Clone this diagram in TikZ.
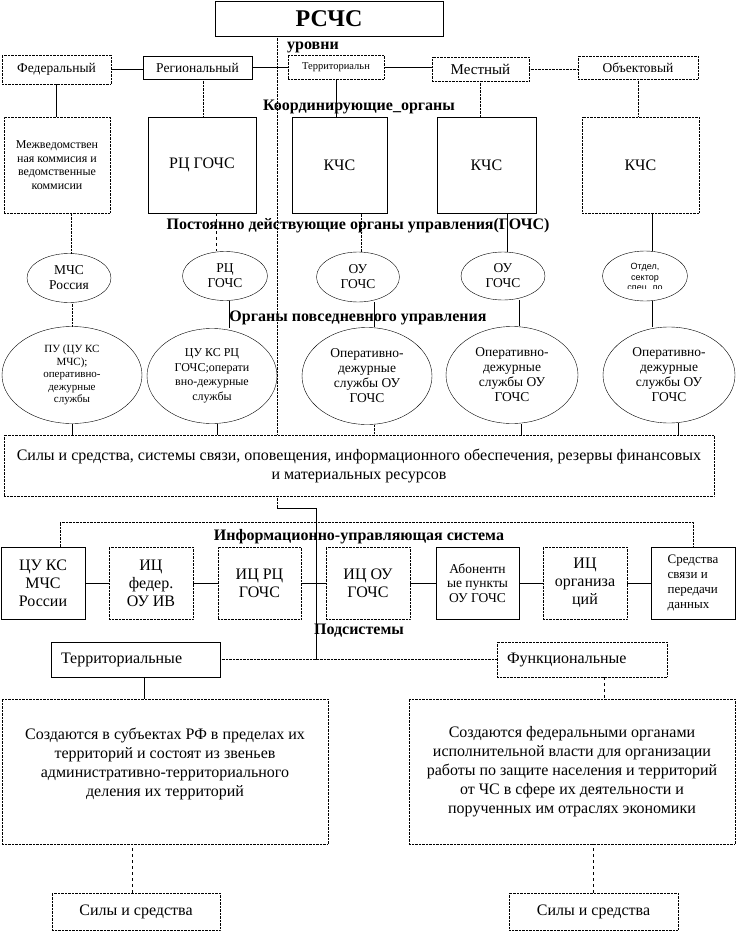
\documentclass[tikz,border=0pt]{standalone}
\usepackage{fontspec}
\setmainfont{Liberation Serif}
\newfontfamily\sansfnt{Liberation Sans}
\usetikzlibrary{positioning,shapes.geometric}
\newcommand{\fsz}[2]{\fontsize{#1}{#2}\selectfont}

\begin{document}
\begin{tikzpicture}[x=1pt,y=-1pt,
        box/.style={draw, rectangle, inner sep=1pt, align=center},
        dbox/.style={box, densely dotted},
        oval/.style={draw, ellipse, inner sep=0pt, align=center},
        lbl/.style={font=\fsz{16}{18}\bfseries},
        dline/.style={densely dotted}]
        \useasboundingbox (0,0) rectangle (737,942);

        \node[box, minimum width=228pt, minimum height=35pt, font=\fsz{24}{26}\bfseries] (rschs) at (329,18.5) {РСЧС};

        \node[dbox, minimum width=109pt, minimum height=29pt, font=\fsz{13.5}{15}] (fed) at (56.5,69.5) {Федеральный};
        \node[box, minimum width=109pt, minimum height=23pt, font=\fsz{13.5}{15}] (reg) at (197.5,67.5) {Региональный};
        \node[dbox, minimum width=96pt, minimum height=24pt, font=\fsz{10.5}{12}] (terr) at (336,67) {Территориальн};
        \node[dbox, minimum width=97pt, minimum height=24pt, font=\fsz{15}{17}] (mest) at (480.5,69) {Местный};
        \node[dbox, minimum width=120pt, minimum height=23pt, font=\fsz{13.5}{15}] (obj) at (638,67.5) {Объектовый};

        \draw (fed.east) -- (fed.east -| reg.west);
        \draw (reg.east) -- (reg.east -| terr.west);
        \draw (terr.east) -- (terr.east -| mest.west);
        \draw[dline] (mest.east) -- (mest.east -| obj.west);

        \node[dbox, minimum width=106pt, minimum height=96pt, font=\fsz{12}{13.5}] (mvk) at (57,165) {Межведомствен\\ная коммисия и\\ведомственные\\коммисии};
        \node[box, minimum width=108pt, minimum height=96pt, font=\fsz{16}{18}] (rc) at (202,165) {РЦ ГОЧС};
        \node[box, minimum width=95pt, minimum height=96pt, font=\fsz{16}{18}] (kchsa) at (339.5,165) {КЧС};
        \node[box, minimum width=99pt, minimum height=96pt, font=\fsz{16}{18}] (kchsb) at (486.5,165) {КЧС};
        \node[dbox, minimum width=117pt, minimum height=96pt, font=\fsz{16}{18}] (kchsc) at (640.5,165) {КЧС};

        \draw (fed.south) -- (fed.south |- mvk.north);
        \draw[dline] ([xshift=6pt]reg.south) -- ([xshift=6pt]reg.south |- rc.north);
        \draw (terr.south) -- (terr.south |- kchsa.north);
        \draw[dline] (mest.south) -- (mest.south |- kchsb.north);
        \draw[dline] (obj.south) -- (obj.south |- kchsc.north);

        \node[oval, minimum width=84pt, minimum height=49pt, font=\fsz{13.5}{15}] (mchs) at (69,278) {МЧС\\Россия};
        \node[oval, minimum width=85pt, minimum height=49pt, font=\fsz{13.5}{15}] (rcg) at (225,276) {РЦ\\ГОЧС};
        \node[oval, minimum width=83pt, minimum height=50pt, font=\fsz{13.5}{15}] (oua) at (358,277) {ОУ\\ГОЧС};
        \node[oval, minimum width=84pt, minimum height=48pt, font=\fsz{13.5}{15}] (oub) at (503,276) {ОУ\\ГОЧС};
        \node[oval, minimum width=85pt, minimum height=50pt] (otdel) at (645,276) {};
        \begin{scope}
            \clip (603,255) rectangle (688,288);
            \node[align=center, inner sep=0pt, font=\sansfnt\fsz{9}{10.5}] (otdelt) at (645,278) {Отдел,\\сектор\\спец. по};
        \end{scope}

        \draw[dline] ([xshift=2pt]mchs.north) -- ([xshift=2pt]mchs.north |- mvk.south);
        \draw[dashed] ([xshift=14pt]rc.south) -- ([xshift=14pt]rc.south |- rcg.north);
        \draw[dline] ([xshift=3pt]oua.north) -- ([xshift=3pt]oua.north |- kchsa.south);
        \draw ([xshift=4pt]oub.north) -- ([xshift=4pt]oub.north |- kchsb.south);
        \draw ([xshift=7pt]otdel.north) -- ([xshift=7pt]otdel.north |- kchsc.south);

        \node[oval, minimum width=140pt, minimum height=97pt, font=\fsz{11}{12.5}] (pu) at (72,375) {ПУ (ЦУ КС\\МЧС);\\оперативно-\\дежурные\\службы};
        \node[oval, minimum width=130pt, minimum height=95pt, font=\fsz{12}{14.5}] (cuks) at (212,376) {ЦУ КС РЦ\\ГОЧС;операти\\вно-дежурные\\службы};
        \node[oval, minimum width=130pt, minimum height=97pt, font=\fsz{13.5}{15}] (odsa) at (367,376) {Оперативно-\\дежурные\\службы ОУ\\ГОЧС};
        \node[oval, minimum width=132pt, minimum height=97pt, font=\fsz{13.5}{15}] (odsb) at (512,375) {Оперативно-\\дежурные\\службы ОУ\\ГОЧС};
        \node[oval, minimum width=132pt, minimum height=96pt, font=\fsz{13.5}{15}] (odsc) at (669,375) {Оперативно-\\дежурные\\службы ОУ\\ГОЧС};

        \draw[dline] (pu.north) -- (pu.north |- mchs.south);
        \draw ([xshift=4pt]rcg.south) -- ([xshift=4pt]rcg.south |- cuks.north);
        \draw ([xshift=16pt]oua.south) -- ([xshift=16pt]oua.south |- odsa.north);
        \draw ([xshift=16pt]oub.south) -- ([xshift=16pt]oub.south |- odsb.north);
        \draw ([xshift=7pt]otdel.south) -- ([xshift=7pt]otdel.south |- odsc.north);

        \node[dbox, minimum width=710pt, minimum height=61pt, font=\fsz{16}{19}] (sily) at (359,465.5) {Силы и средства, системы связи, оповещения, информационного обеспечения, резервы финансовых\\и материальных ресурсов};

        \draw (pu.south) -- (pu.south |- sily.north);
        \draw ([xshift=5pt]cuks.south) -- ([xshift=5pt]cuks.south |- sily.north);
        \draw[dline] ([xshift=7pt]odsa.south) -- ([xshift=7pt]odsa.south |- sily.north);
        \draw ([xshift=9pt]odsb.south) -- ([xshift=9pt]odsb.south |- sily.north);
        \draw ([xshift=9pt]odsc.south) -- ([xshift=9pt]odsc.south |- sily.north);
        \draw[dline] ([xshift=-52pt]rschs.south) -- ([xshift=-52pt]rschs.south |- sily.north);

        \node[box, minimum width=84pt, minimum height=72pt, font=\fsz{16}{18}] (cuk) at (43,583) {ЦУ КС\\МЧС\\России};
        \node[dbox, minimum width=84pt, minimum height=72pt, font=\fsz{16}{18}] (icfed) at (151,583) {ИЦ\\федер.\\ОУ ИВ};
        \node[dbox, minimum width=83pt, minimum height=72pt, font=\fsz{16}{18}] (icrc) at (259.5,583) {ИЦ РЦ\\ГОЧС};
        \node[dbox, minimum width=84pt, minimum height=72pt, font=\fsz{16}{18}] (icou) at (368,583) {ИЦ ОУ\\ГОЧС};
        \node[box, minimum width=83pt, minimum height=72pt, font=\fsz{13.5}{14.5}] (abon) at (477.5,583) {Абонентн\\ые пункты\\ОУ ГОЧС};
        \node[dbox, minimum width=84pt, minimum height=72pt, font=\fsz{16}{18}] (icorg) at (585,583) {ИЦ\\организа\\ций};
        \node[box, minimum width=84pt, minimum height=72pt, font=\fsz{13}{15}, align=left] (sredst) at (693,583) {Средства\\связи и\\передачи\\данных};

        \draw (cuk) -- (icfed);
        \draw (icfed) -- (icrc);
        \draw (icrc) -- (icou);
        \draw (icou) -- (abon);
        \draw (abon) -- (icorg);
        \draw (icorg) -- (sredst);
        \draw[dline] ([xshift=17pt]cuk.north) -- ++(0,-25) -| (sredst.north);

        \node[box, text width=149pt, minimum height=35pt, inner xsep=10pt, align=left, font=\fsz{16}{18}] (tsub) at (135.5,659.5) {Территориальные};
        \node[dbox, text width=150pt, minimum height=35pt, inner xsep=10pt, align=left, font=\fsz{16}{18}] (fsub) at (582,659.5) {Функциональные};
        \draw[dline] (tsub.east) -- (fsub.west);

        \draw[dline] ([xshift=-82pt]sily.south) -- ++(0,12) coordinate (k1);
        \draw (k1) -- ++(39,0) coordinate (k2);
        \draw (k2) -- (k2 |- tsub.east);

        \node[dbox, minimum width=326pt, minimum height=145pt, font=\fsz{16}{19}] (tdesc) at (165,771.5) {Создаются в субъектах РФ в пределах их\\территорий и состоят из звеньев\\административно-территориального\\деления их  территорий\\\mbox{}};
        \node[dbox, minimum width=326pt, minimum height=145pt, font=\fsz{16}{19}] (fdesc) at (572,771.5) {Создаются федеральными органами\\исполнительной власти для организации\\работы по защите населения и территорий\\от ЧС в сфере их деятельности и\\порученных им отраслях экономики};

        \draw ([xshift=8.5pt]tsub.south) -- ([xshift=8.5pt]tsub.south |- tdesc.north);
        \draw[dashed] ([xshift=22pt]fsub.south) -- ([xshift=22pt]fsub.south |- fdesc.north);

        \node[dbox, minimum width=168pt, minimum height=37pt, font=\fsz{16}{18}] (tforce) at (136,911.5) {Силы и средства};
        \node[dbox, minimum width=169pt, minimum height=37pt, font=\fsz{16}{18}] (fforce) at (593.5,911.5) {Силы и средства};

        \draw[dashed] ([xshift=-4pt]tforce.north) -- ([xshift=-4pt]tforce.north |- tdesc.south);
        \draw[dashed] (fforce.north) -- (fforce.north |- fdesc.south);

        \node[lbl] (urov) at (313,47) {уровни};
        \node[lbl] (kord) at (359,107) {Координирующие\_органы};
        \node[lbl] (post) at (358,226) {Постоянно действующие органы управления(ГОЧС)};
        \node[lbl] (povs) at (358,318) {Органы повседневного управления};
        \node[lbl] (ius) at (359,537) {Информационно-управляющая система};
        \node[lbl] (podsys) at (359,631) {Подсистемы};
\end{tikzpicture}
\end{document}
